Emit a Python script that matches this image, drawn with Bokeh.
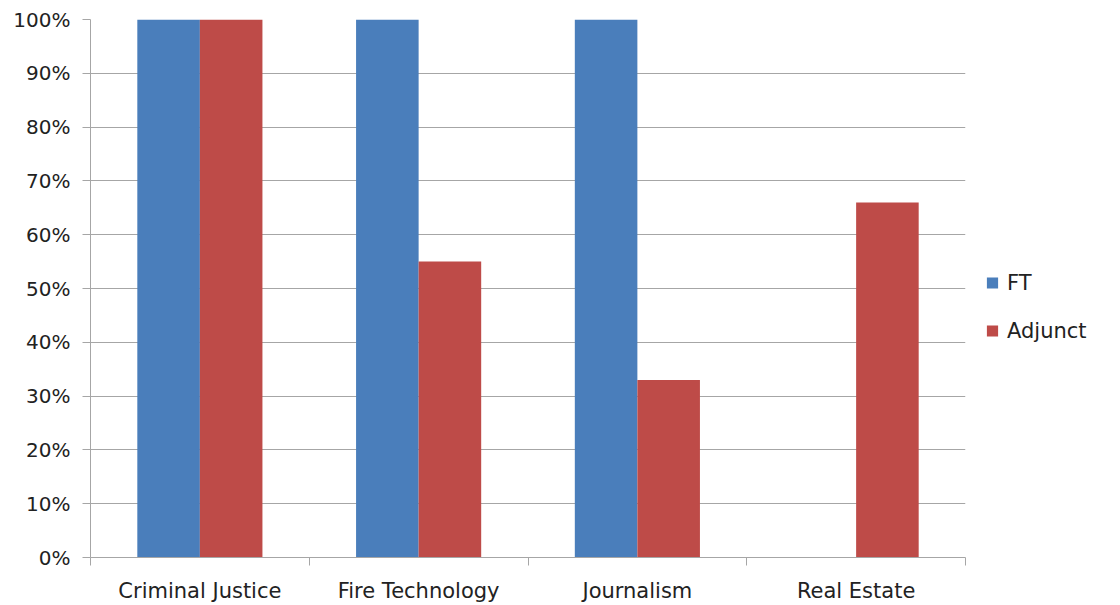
from bokeh.plotting import figure
from bokeh.models import ColumnDataSource, FixedTicker, Legend, LegendItem, Range1d, NumeralTickFormatter
from bokeh.embed import file_html
from bokeh.resources import INLINE

categories = ["Criminal Justice", "Fire Technology", "Journalism", "Real Estate"]
ft_values = [1.00, 1.00, 1.00, 0.00]
adjunct_values = [1.00, 0.55, 0.33, 0.66]
y_ticks = [0.0, 0.1, 0.2, 0.3, 0.4, 0.5, 0.6, 0.7, 0.8, 0.9, 1.0]

FONT = "DejaVu Sans"
GRID = "#A6A6A6"
TEXT = "#222222"
BLUE = "#4A7EBB"
RED = "#BE4B48"

n = len(categories)
centers = [i + 0.5 for i in range(n)]
bar_w = 0.286

src = ColumnDataSource(dict(
    x_ft=[c - bar_w / 2 for c in centers],
    x_adj=[c + bar_w / 2 for c in centers],
    ft=ft_values,
    adj=adjunct_values,
))

p = figure(frame_width=875, frame_height=538, output_backend="svg", toolbar_location=None,
           x_range=Range1d(0, n), y_range=Range1d(0, 1.0),
           min_border_left=90, min_border_right=0, min_border_top=19, min_border_bottom=48)
p.outline_line_color = None
p.background_fill_color = "white"

r_ft = p.vbar(x="x_ft", top="ft", bottom=0, width=bar_w, source=src, fill_color=BLUE, line_color=None)
r_adj = p.vbar(x="x_adj", top="adj", bottom=0, width=bar_w, source=src, fill_color=RED, line_color=None)

# y axis
p.yaxis.ticker = FixedTicker(ticks=y_ticks)
p.yaxis.formatter = NumeralTickFormatter(format="0%")
p.yaxis.axis_line_color = GRID
p.yaxis.major_tick_line_color = GRID
p.yaxis.major_tick_out = 8
p.yaxis.major_tick_in = 0
p.yaxis.minor_tick_line_color = None
p.yaxis.major_label_text_font = FONT
p.yaxis.major_label_text_font_size = "20px"
p.yaxis.major_label_text_color = TEXT
p.yaxis.major_label_standoff = 12

# x axis
p.xaxis.ticker = FixedTicker(ticks=centers, minor_ticks=list(range(n + 1)))
p.xaxis.major_label_overrides = {c: cat for c, cat in zip(centers, categories)}
p.xaxis.axis_line_color = GRID
p.xaxis.major_tick_line_color = None
p.xaxis.minor_tick_line_color = GRID
p.xaxis.minor_tick_out = 8
p.xaxis.minor_tick_in = 0
p.xaxis.major_label_text_font = FONT
p.xaxis.major_label_text_font_size = "21px"
p.xaxis.major_label_text_color = TEXT
p.xaxis.major_label_standoff = 13

p.xgrid.grid_line_color = None
p.ygrid.ticker = FixedTicker(ticks=y_ticks)
p.ygrid.grid_line_color = GRID
p.ygrid.grid_line_width = 1

legend = Legend(items=[LegendItem(label="FT", renderers=[r_ft]),
                       LegendItem(label="Adjunct", renderers=[r_adj])],
                location="center_left")
legend.border_line_color = None
legend.background_fill_alpha = 0
legend.label_text_font = FONT
legend.label_text_font_size = "21px"
legend.label_text_color = TEXT
legend.glyph_width = 14
legend.glyph_height = 14
legend.spacing = 24
legend.label_standoff = 8
legend.padding = 0
legend.margin = 20
legend.title = " "
legend.title_text_font_size = "20px"
legend.title_standoff = 14
p.add_layout(legend, "right")

open("out.html", "w").write(file_html(p, INLINE))
